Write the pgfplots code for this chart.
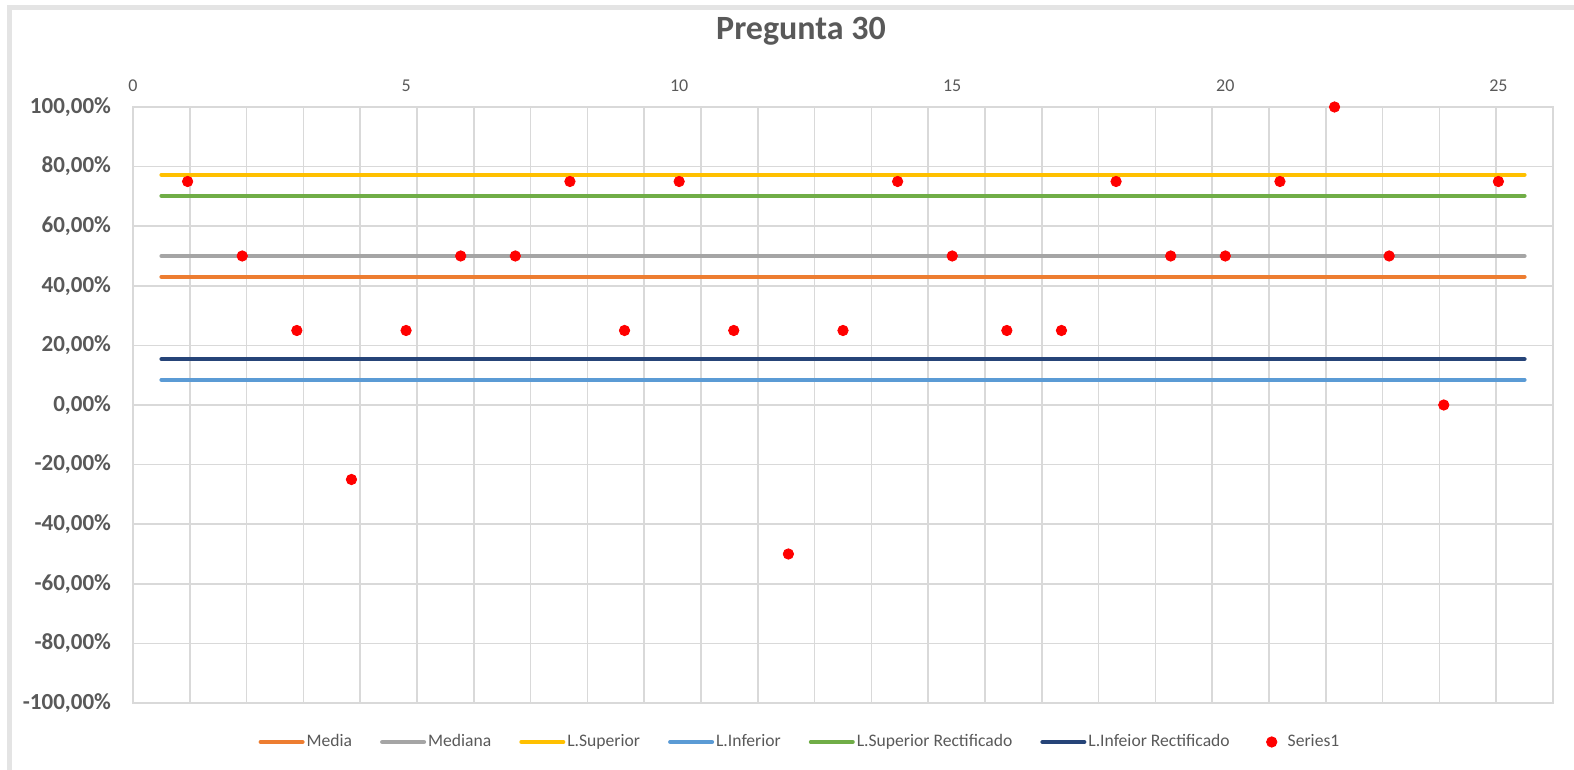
\documentclass[border=0pt]{standalone}
\usepackage{pgfplots}
\pgfplotsset{compat=1.18}
\usepackage{fontspec}
\setmainfont{Carlito}
\definecolor{cMedia}{HTML}{ED7D31}
\definecolor{cMediana}{HTML}{A5A5A5}
\definecolor{cLSup}{HTML}{FFC000}
\definecolor{cLInf}{HTML}{5B9BD5}
\definecolor{cLSupR}{HTML}{70AD47}
\definecolor{cLInfR}{HTML}{264478}
\definecolor{gridc}{HTML}{D9D9D9}
\definecolor{textc}{HTML}{595959}
\definecolor{framec}{HTML}{E4E4E4}
\pgfplotsset{hline/.style={line width=2pt, line cap=round,
  legend image code/.code={\draw[##1] (0pt,0pt) -- (21pt,0pt);}},
  dotleg/.style={legend image code/.code={\path[draw=none,fill=none] (0pt,0pt) -- (14pt,0pt); \draw[mark repeat=2, mark phase=2, ##1] plot coordinates {(0pt,0pt) (7pt,0pt) (14pt,0pt)};}}}
\begin{document}
\begin{tikzpicture}
\begin{axis}[name=ax, scale only axis, width=710pt, height=298pt,
  xmin=0, xmax=26, ymin=-1, ymax=1, clip=false,
  axis line style={draw=gridc, line width=0.75pt},
  major tick length=0pt,
  xtick={0,5,10,15,20,25}, xticklabel pos=top,
  xticklabel style={font=\fontsize{9}{10}\selectfont, text=textc, yshift=4pt},
  /pgf/number format/assume math mode=true,
  extra x ticks={0,1.04,2.08,3.12,4.16,5.2,6.24,7.28,8.32,9.36,10.4,11.44,12.48,13.52,14.56,15.6,16.64,17.68,18.72,19.76,20.8,21.84,22.88,23.92,24.96,26},
  extra x tick labels={},
  extra x tick style={grid=major},
  ytick={-1,-0.8,-0.6,-0.4,-0.2,0,0.2,0.4,0.6,0.8,1},
  yticklabels={{-100,00\%},{-80,00\%},{-60,00\%},{-40,00\%},{-20,00\%},{0,00\%},{20,00\%},{40,00\%},{60,00\%},{80,00\%},{100,00\%}},
  yticklabel style={font=\bfseries\fontsize{11.5}{12}\selectfont, text=textc, xshift=-7.5pt},
  ymajorgrids=true,
  grid style={gridc, line width=0.75pt},
  title={Pregunta 30},
  title style={at={(0.4704,1.0923)}, anchor=base, font=\bfseries\fontsize{17}{20}\selectfont, text=textc},
  legend columns=7,
  legend style={at={(0.4697,-0.0654)}, anchor=center, draw=none, fill=none,
    font=\fontsize{8.8}{11}\selectfont, text=textc,
    /tikz/every even column/.append style={column sep=13pt},
    nodes={inner sep=1pt}},
]
\addplot[hline, cMedia] coordinates {(0.52,0.43) (25.48,0.43)};
\addlegendentry{Media}
\addplot[hline, cMediana] coordinates {(0.52,0.50) (25.48,0.50)};
\addlegendentry{Mediana}
\addplot[hline, cLSup] coordinates {(0.52,0.7725) (25.48,0.7725)};
\addlegendentry{L.Superior}
\addplot[hline, cLInf] coordinates {(0.52,0.0845) (25.48,0.0845)};
\addlegendentry{L.Inferior}
\addplot[hline, cLSupR] coordinates {(0.52,0.702) (25.48,0.702)};
\addlegendentry{L.Superior Rectificado}
\addplot[hline, cLInfR] coordinates {(0.52,0.154) (25.48,0.154)};
\addlegendentry{L.Infeior Rectificado}
\addplot[only marks, mark=*, mark size=2.6pt, red, dotleg] table {
x y
1 0.75
2 0.50
3 0.25
4 -0.25
5 0.25
6 0.50
7 0.50
8 0.75
9 0.25
10 0.75
11 0.25
12 -0.50
13 0.25
14 0.75
15 0.50
16 0.25
17 0.25
18 0.75
19 0.50
20 0.50
21 0.75
22 1.00
23 0.50
24 0.00
25 0.75
};
\addlegendentry{Series1}
\end{axis}
\coordinate (BL) at ([xshift=-66.5pt,yshift=-33.5pt]ax.south west);
\coordinate (TR) at ([xshift=10.5pt,yshift=53.5pt]ax.north east);
\coordinate (TL) at (BL |- TR);
\path[use as bounding box] (BL) rectangle (TR);
\draw[framec, line width=2.5pt] ([xshift=5pt]BL) -- ([xshift=5pt,yshift=-4pt]TL) -- ([yshift=-4pt]TR);
\end{tikzpicture}
\end{document}
